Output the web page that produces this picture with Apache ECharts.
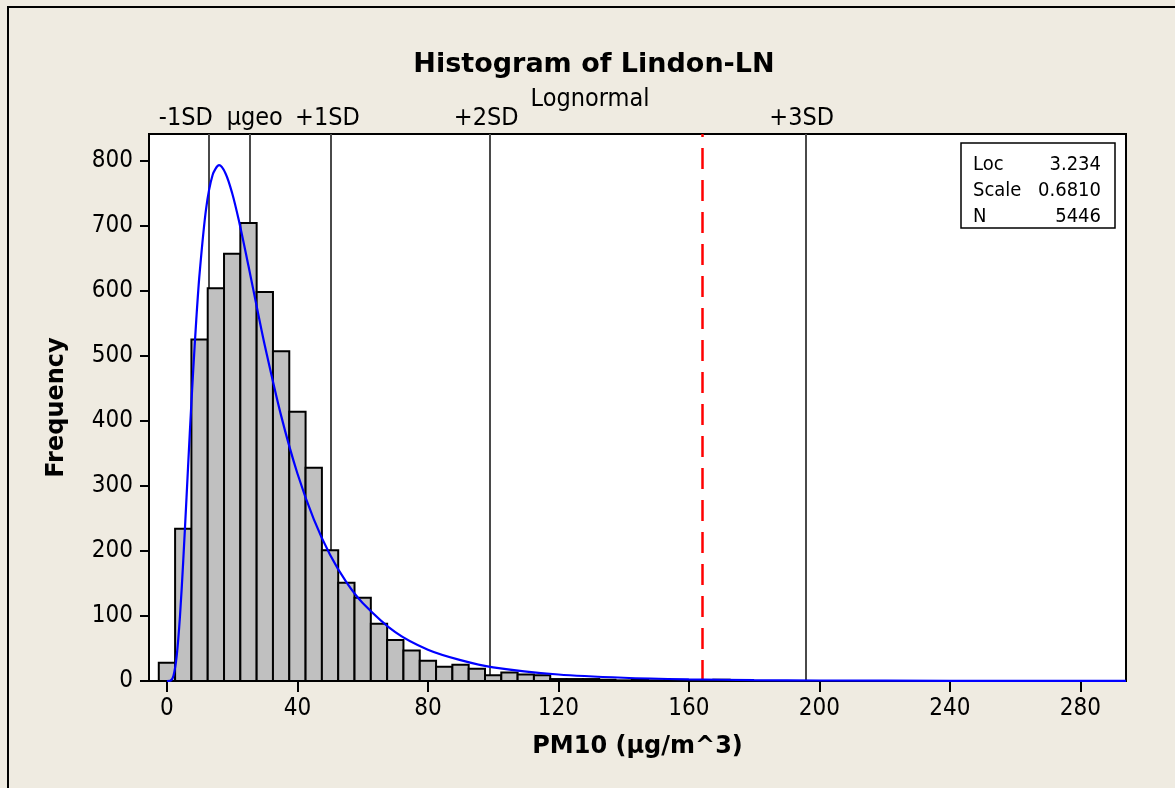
<!DOCTYPE html>
<html>
<head>
<meta charset="utf-8">
<script src="https://cdn.jsdelivr.net/npm/echarts@6/dist/echarts.min.js"></script>
<style>
  html, body { margin: 0; padding: 0; background: #efebe1 }
  #chart { width: 1175px; height: 788px }
</style>
</head>
<body>
<div id="chart"></div>
<script>
// histogram bins (centre of each 5-unit bin) and counts
const binWidth = 5
const binCenters = [0, 5, 10, 15, 20, 25, 30, 35, 40, 45, 50, 55, 60, 65, 70, 75, 80, 85,
  90, 95, 100, 105, 110, 115, 120, 125, 130, 135, 140, 145, 150, 155, 160, 165, 170, 175]
const binCounts = [28, 234, 525, 604, 657, 704, 598, 507, 414, 328, 201, 151, 128, 88, 63, 47, 31, 22,
  25, 19, 9, 13, 10, 9, 3, 3, 3, 2, 1, 2, 1, 1, 1, 1, 2, 1]

// fitted lognormal curve
const fitX = [0, 1, 2, 3, 4, 5, 6, 7, 8, 9, 10, 12, 14, 16, 18, 20, 22, 25, 28, 30, 35, 40, 45,
  50, 55, 60, 70, 80, 90, 100, 120, 140, 160, 180, 200, 240, 294]
const fitY = [0, 0.3, 8, 39, 100, 185, 282, 381, 473, 556, 626, 726, 778, 793, 780, 750, 709, 638, 564,
  516, 408, 319, 249, 194, 152, 120, 75, 48, 32, 21, 10, 5, 2.6, 1.4, 0.8, 0.3, 0.1]

// reference lines
const refValues = [12.85, 25.38, 50.14, 99.1, 195.8]
const refLabels = ['-1SD', 'μgeo', '+1SD', '+2SD', '+3SD']
const limitValue = 164

const xTicks = [0, 40, 80, 120, 160, 200, 240, 280]
const yTicks = [0, 100, 200, 300, 400, 500, 600, 700, 800]

const statNames = ['Loc', 'Scale', 'N']
const statValues = ['3.234', '0.6810', '5446']

const textFont = "'DejaVu Sans Condensed', 'DejaVu Sans', sans-serif"
const boldFont = "'DejaVu Sans', sans-serif"

// horizontal nudges of the reference labels (px)
const labelShift = [-23, 5, -3, -4, -4]

function shiftPadding (dx) {
  return dx < 0 ? [0, -2 * dx, 0, 0] : [0, 0, 0, 2 * dx]
}

const histData = binCenters.map((c, i) => [c, binCounts[i]])
const fitData = fitX.map((x, i) => [x, fitY[i]])

const refMarks = refValues.map((v, i) => ({
  xAxis: v,
  lineStyle: { color: '#4a4a4a', width: 2, type: 'solid' },
  label: {
    show: true,
    position: 'end',
    distance: 3,
    formatter: refLabels[i],
    color: '#000',
    fontFamily: textFont,
    fontSize: 25,
    padding: shiftPadding(labelShift[i])
  }
}))
refMarks.push({
  xAxis: limitValue,
  lineStyle: { color: '#ff0000', width: 2.5, type: [21, 11] },
  label: { show: false }
})

const statTexts = []
statNames.forEach((name, i) => {
  statTexts.push({
    type: 'text',
    left: 973,
    top: 155 + i * 26,
    z: 101,
    style: { text: name, fill: '#000', font: `20px ${textFont}` }
  })
  statTexts.push({
    type: 'text',
    right: 1175 - 1101,
    top: 155 + i * 26,
    z: 101,
    style: { text: statValues[i], fill: '#000', font: `20px ${textFont}`, textAlign: 'right' }
  })
})

const chart = echarts.init(document.getElementById('chart'), null, { renderer: 'canvas' })

const option = {
  backgroundColor: '#efebe1',
  animation: false,
  grid: {
    left: 149,
    top: 134,
    right: 49,
    bottom: 107,
    show: true,
    backgroundColor: '#ffffff',
    borderColor: '#000',
    borderWidth: 2
  },
  graphic: [
    {
      type: 'rect',
      shape: { x: 8, y: 7, width: 1300, height: 900 },
      style: { fill: 'none', stroke: '#000', lineWidth: 2 },
      silent: true
    },
    {
      type: 'text',
      x: 594,
      y: 65,
      style: {
        text: 'Histogram of Lindon-LN',
        font: `bold 27px ${boldFont}`,
        fill: '#000',
        align: 'center',
        verticalAlign: 'middle'
      }
    },
    {
      type: 'text',
      x: 590,
      y: 99,
      style: {
        text: 'Lognormal',
        font: `25px ${textFont}`,
        fill: '#000',
        align: 'center',
        verticalAlign: 'middle'
      }
    },
    {
      type: 'rect',
      shape: { x: 961, y: 143, width: 154, height: 85 },
      style: { fill: '#fff', stroke: '#000', lineWidth: 1.5 },
      z: 100
    },
    ...statTexts
  ],
  xAxis: {
    type: 'value',
    min: -5.5,
    max: 294,
    name: 'PM10 (μg/m^3)',
    nameLocation: 'middle',
    nameGap: 54,
    nameTextStyle: { color: '#000', fontFamily: boldFont, fontWeight: 'bold', fontSize: 24 },
    axisLine: { show: true, onZero: false, lineStyle: { color: '#000', width: 2 } },
    axisTick: { show: true, length: 11, customValues: xTicks, lineStyle: { color: '#000', width: 2 } },
    axisLabel: { customValues: xTicks, color: '#000', fontFamily: textFont, fontSize: 24, margin: 16 },
    splitLine: { show: false }
  },
  yAxis: {
    type: 'value',
    min: 0,
    max: 841,
    name: 'Frequency',
    nameLocation: 'middle',
    nameGap: 80,
    nameTextStyle: { color: '#000', fontFamily: boldFont, fontWeight: 'bold', fontSize: 24 },
    axisLine: { show: true, onZero: false, lineStyle: { color: '#000', width: 2 } },
    axisTick: { show: true, length: 9, customValues: yTicks, lineStyle: { color: '#000', width: 2 } },
    axisLabel: { customValues: yTicks, color: '#000', fontFamily: textFont, fontSize: 24, margin: 16 },
    splitLine: { show: false }
  },
  series: [
    {
      type: 'custom',
      name: 'counts',
      data: histData,
      encode: { x: 0, y: 1 },
      renderItem: (params, api) => {
        const c = api.value(0)
        const topLeft = api.coord([c - binWidth / 2, api.value(1)])
        const bottomRight = api.coord([c + binWidth / 2, 0])
        return {
          type: 'rect',
          shape: {
            x: topLeft[0],
            y: topLeft[1],
            width: bottomRight[0] - topLeft[0],
            height: bottomRight[1] - topLeft[1]
          },
          style: { fill: '#c0c0c0', stroke: '#000', lineWidth: 2 }
        }
      },
      z: 3,
      // reference lines sit behind the bars
      markLine: {
        silent: true,
        symbol: ['none', 'none'],
        data: refMarks,
        z: 1
      }
    },
    {
      type: 'line',
      name: 'fit',
      data: fitData,
      showSymbol: false,
      smooth: 0.3,
      lineStyle: { color: '#0000ff', width: 2.2 },
      z: 4
    }
  ]
}

chart.setOption(option)
</script>
</body>
</html>
